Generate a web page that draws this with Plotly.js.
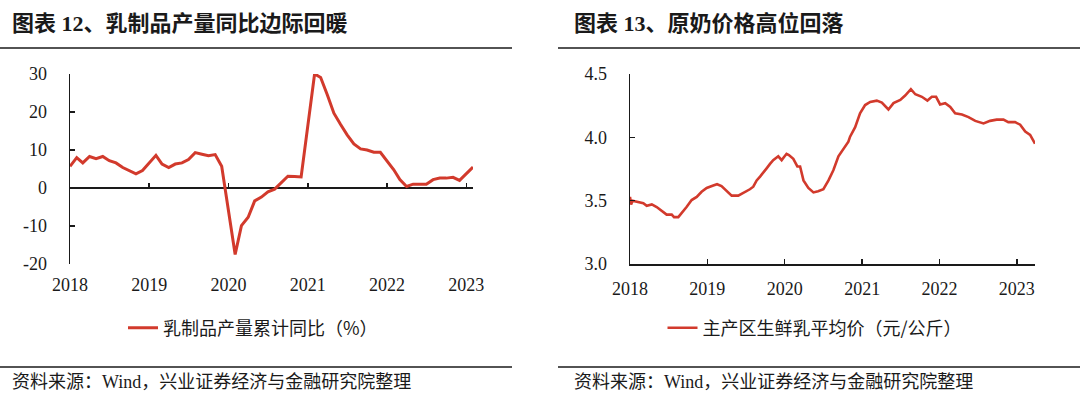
<!DOCTYPE html>
<html>
<head>
<meta charset="utf-8">
<script src="https://cdn.plot.ly/plotly-3.0.1.min.js"></script>
<style>
html,body{margin:0;padding:0;background:#fff;}
#chart{width:1080px;height:400px;}
</style>
</head>
<body>
<div id="chart"></div>
<script>
// ---- Left chart: 乳制品产量累计同比 (%) ----
const dairyDates = [
  '2018-01-01','2018-02-01','2018-03-01','2018-04-01','2018-05-01','2018-06-01','2018-07-01','2018-08-01','2018-09-01','2018-10-01','2018-11-01','2018-12-01',
  '2019-01-01','2019-02-01','2019-03-01','2019-04-01','2019-05-01','2019-06-01','2019-07-01','2019-08-01','2019-09-01','2019-10-01','2019-11-01','2019-12-01',
  '2020-02-01','2020-03-01','2020-04-01','2020-05-01','2020-06-01','2020-07-01','2020-08-01','2020-09-01','2020-10-01','2020-11-01','2020-12-01',
  '2021-02-01','2021-03-01','2021-04-01','2021-05-01','2021-06-01','2021-07-01','2021-08-01','2021-09-01','2021-10-01','2021-11-01','2021-12-01',
  '2022-01-01','2022-02-01','2022-03-01','2022-04-01','2022-05-01','2022-06-01','2022-07-01','2022-08-01','2022-09-01','2022-10-01','2022-11-01','2022-12-01',
  '2023-01-01','2023-02-01'
];
const dairyYoY = [
  5.7, 8.0, 6.6, 8.3, 7.7, 8.3, 7.2, 6.6, 5.4, 4.6, 3.7, 4.6,
  6.6, 8.6, 6.3, 5.4, 6.3, 6.6, 7.5, 9.3, 8.9, 8.5, 8.8, 5.7,
  -17.5, -9.9, -7.7, -3.4, -2.4, -1.0, -0.3, 1.3, 3.1, 3.0, 2.9,
  30.0, 29.1, 24.5, 19.7, 16.7, 14.0, 11.6, 10.3, 10.0, 9.4, 9.4,
  7.0, 4.8, 2.2, 0.4, 1.0, 1.1, 1.0, 2.2, 2.6, 2.6, 2.8, 2.0,
  3.8, 5.5
];
const dairyName = '乳制品产量累计同比（%）';
const leftTickVals = [-20, -10, 0, 10, 20, 30];
const leftTickText = ['-20', '-10', '0', '10', '20', '30'];

// ---- Right chart: 主产区生鲜乳平均价 (元/公斤) ----
const milkDates = [
  '2018-01-01','2018-01-06','2018-01-13','2018-02-09','2018-03-05','2018-03-21','2018-04-14','2018-05-07','2018-05-31','2018-06-23',
  '2018-07-17','2018-07-28','2018-08-17','2018-09-02','2018-09-25','2018-10-19','2018-11-12','2018-12-05','2018-12-29','2019-01-29',
  '2019-02-16','2019-03-09','2019-04-02','2019-04-26','2019-05-27','2019-06-19','2019-07-05','2019-07-21','2019-08-06','2019-08-22',
  '2019-09-07','2019-09-23','2019-10-08','2019-10-24','2019-11-08','2019-12-02','2019-12-18','2020-01-10','2020-01-21','2020-02-11',
  '2020-02-19','2020-03-01','2020-03-14','2020-03-30','2020-04-22','2020-05-16','2020-06-07','2020-07-02','2020-07-26','2020-08-18',
  '2020-09-11','2020-10-04','2020-10-28','2020-11-05','2020-11-29','2020-12-22','2021-01-15','2021-02-08','2021-03-11','2021-04-04',
  '2021-05-05','2021-05-29','2021-06-30','2021-07-23','2021-08-19','2021-09-09','2021-10-10','2021-11-05','2021-11-26','2021-12-16',
  '2022-01-04','2022-01-28','2022-02-21','2022-03-16','2022-04-17','2022-05-18','2022-06-19','2022-07-28','2022-08-28','2022-09-28',
  '2022-10-30','2022-11-22','2022-12-24','2023-01-17','2023-02-10','2023-03-05','2023-03-28'
];
const milkPrice = [
  3.53, 3.47, 3.50, 3.49, 3.48, 3.46, 3.47, 3.45, 3.42, 3.39,
  3.39, 3.37, 3.37, 3.40, 3.45, 3.505, 3.53, 3.57, 3.60, 3.62,
  3.63, 3.615, 3.58, 3.54, 3.54, 3.56, 3.57, 3.59, 3.61, 3.66,
  3.69, 3.72, 3.755, 3.79, 3.82, 3.85, 3.82, 3.87, 3.86, 3.83,
  3.80, 3.77, 3.77, 3.66, 3.60, 3.565, 3.575, 3.59, 3.66, 3.74,
  3.85, 3.91, 3.965, 4.005, 4.08, 4.19, 4.255, 4.28, 4.29, 4.275,
  4.22, 4.27, 4.295, 4.33, 4.38, 4.34, 4.32, 4.29, 4.32, 4.32,
  4.26, 4.27, 4.24, 4.19, 4.18, 4.16, 4.13, 4.11, 4.13, 4.14,
  4.14, 4.12, 4.12, 4.10, 4.045, 4.02, 3.95
];
const milkName = '主产区生鲜乳平均价（元/公斤）';
const rightTickVals = [3.0, 3.5, 4.0, 4.5];
const rightTickText = ['3.0', '3.5', '4.0', '4.5'];

// ---- Shared ----
const yearTickVals = ['2018-01-01','2019-01-01','2020-01-01','2021-01-01','2022-01-01','2023-01-01'];
const yearTickText = ['2018','2019','2020','2021','2022','2023'];
const leftTitle = '图表 12、乳制品产量同比边际回暖';
const rightTitle = '图表 13、原奶价格高位回落';
const sourceText = '资料来源：Wind，兴业证券经济与金融研究院整理';

const RED = '#d23a2c';
const INK = '#1a1a1a';
const FONT = 'Liberation Serif, "Noto Sans CJK SC", serif';
const W = 1080, H = 400;
const px = v => v / W;
const py = v => 1 - v / H;

const yDom = [py(264), py(74)];
const leftDom = [px(70), px(473)];
const rightDom = [px(630), px(1035)];
const zeroPos = yDom[0] + (0 - (-20)) / 50 * (yDom[1] - yDom[0]);

const traces = [
  {x: dairyDates, y: dairyYoY, type: 'scatter', mode: 'lines', name: dairyName,
   xaxis: 'x', yaxis: 'y', line: {color: RED, width: 3}, legend: 'legend'},
  {x: milkDates, y: milkPrice, type: 'scatter', mode: 'lines', name: milkName,
   xaxis: 'x2', yaxis: 'y2', line: {color: RED, width: 2.6}, legend: 'legend2'},
  // empty helper trace so the zero-line tick axis (x3) is drawn
  {x: [], y: [], type: 'scatter', mode: 'lines', xaxis: 'x3', yaxis: 'y',
   showlegend: false, hoverinfo: 'skip'}
];

const tickFont = {family: FONT, size: 18, color: INK};
const legendFont = {family: '"Noto Sans CJK SC", sans-serif', size: 18, color: INK};

const layout = {
  width: W, height: H,
  margin: {l: 0, r: 0, t: 0, b: 0},
  paper_bgcolor: '#fff', plot_bgcolor: '#fff',
  showlegend: true,
  xaxis: {
    domain: leftDom, anchor: 'y', type: 'date',
    range: ['2018-01-01', '2023-02-01'],
    tickmode: 'array', tickvals: yearTickVals, ticktext: yearTickText,
    ticks: '', showline: false, showgrid: false, zeroline: false,
    tickfont: tickFont, ticklabelstandoff: 8
  },
  xaxis3: {
    overlaying: 'x', anchor: 'free', position: zeroPos, type: 'date',
    range: ['2018-01-01', '2023-02-01'],
    tickmode: 'array', tickvals: yearTickVals.slice(1), ticktext: yearTickText.slice(1),
    ticks: 'inside', ticklen: 5, tickwidth: 1.5, tickcolor: INK,
    showticklabels: false, showline: false, showgrid: false, zeroline: false
  },
  yaxis: {
    domain: yDom, anchor: 'x', range: [-20, 30],
    tickmode: 'array', tickvals: leftTickVals, ticktext: leftTickText,
    ticks: 'inside', ticklen: 5, tickwidth: 1.5, tickcolor: INK,
    showline: true, linecolor: INK, linewidth: 1.5,
    showgrid: false, zeroline: true, zerolinecolor: INK, zerolinewidth: 1.5,
    tickfont: tickFont, ticklabelstandoff: 18
  },
  xaxis2: {
    domain: rightDom, anchor: 'y2', type: 'date',
    range: ['2018-01-01', '2023-03-28'],
    tickmode: 'array', tickvals: yearTickVals, ticktext: yearTickText,
    ticks: 'inside', ticklen: 5, tickwidth: 1.5, tickcolor: INK,
    showline: true, linecolor: INK, linewidth: 1.5,
    showgrid: false, zeroline: false,
    tickfont: tickFont, ticklabelstandoff: 8
  },
  yaxis2: {
    domain: yDom, anchor: 'x2', range: [3.0, 4.5],
    tickmode: 'array', tickvals: rightTickVals, ticktext: rightTickText,
    ticks: 'inside', ticklen: 5, tickwidth: 1.5, tickcolor: INK,
    showline: true, linecolor: INK, linewidth: 1.5,
    showgrid: false, zeroline: false,
    tickfont: tickFont, ticklabelstandoff: 18
  },
  legend: {
    x: px(253), y: py(328), xanchor: 'center', yanchor: 'middle',
    orientation: 'h', font: legendFont, bgcolor: 'rgba(0,0,0,0)'
  },
  legend2: {
    x: px(815), y: py(328), xanchor: 'center', yanchor: 'middle',
    orientation: 'h', font: legendFont, bgcolor: 'rgba(0,0,0,0)'
  },
  annotations: [
    {text: '<b>' + leftTitle + '</b>', xref: 'paper', yref: 'paper', x: px(10), y: py(23),
     xanchor: 'left', yanchor: 'middle', showarrow: false,
     font: {family: FONT, size: 22, color: INK}},
    {text: '<b>' + rightTitle + '</b>', xref: 'paper', yref: 'paper', x: px(572), y: py(23),
     xanchor: 'left', yanchor: 'middle', showarrow: false,
     font: {family: FONT, size: 22, color: INK}},
    {text: sourceText, xref: 'paper', yref: 'paper', x: px(10), y: py(382),
     xanchor: 'left', yanchor: 'middle', showarrow: false,
     font: {family: FONT, size: 18, color: INK}},
    {text: sourceText, xref: 'paper', yref: 'paper', x: px(572), y: py(382),
     xanchor: 'left', yanchor: 'middle', showarrow: false,
     font: {family: FONT, size: 18, color: INK}}
  ],
  shapes: [
    {type: 'line', xref: 'paper', yref: 'paper', x0: 0, x1: px(512), y0: py(48), y1: py(48), line: {color: INK, width: 1.5}},
    {type: 'line', xref: 'paper', yref: 'paper', x0: 0, x1: px(512), y0: py(367), y1: py(367), line: {color: INK, width: 1.5}},
    {type: 'line', xref: 'paper', yref: 'paper', x0: px(558), x1: 1, y0: py(48), y1: py(48), line: {color: INK, width: 1.5}},
    {type: 'line', xref: 'paper', yref: 'paper', x0: px(558), x1: 1, y0: py(367), y1: py(367), line: {color: INK, width: 1.5}}
  ]
};

Plotly.newPlot('chart', traces, layout, {displayModeBar: false, staticPlot: true});
</script>
</body>
</html>
